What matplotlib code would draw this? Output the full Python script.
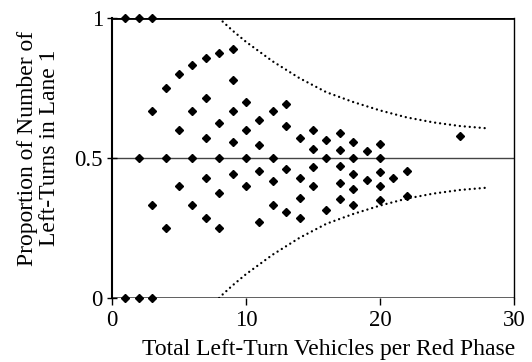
import matplotlib
matplotlib.use("Agg")
import matplotlib.pyplot as plt
import numpy as np

plt.rcParams['font.family'] = ['Liberation Serif', 'DejaVu Serif']

# total left-turn vehicles per red phase, and how many of them used lane 1
total_vehicles = [1, 1, 2, 2, 2, 3, 3, 3, 3,
                  4, 4, 4, 5, 5, 5, 6, 6, 6, 6,
                  7, 7, 7, 7, 7, 8, 8, 8, 8, 8,
                  9, 9, 9, 9, 9, 10, 10, 10, 10,
                  11, 11, 11, 11, 12, 12, 12, 12,
                  13, 13, 13, 13, 14, 14, 14, 14,
                  15, 15, 15, 15, 16, 16, 16,
                  17, 17, 17, 17, 17, 18, 18, 18, 18, 18,
                  19, 19, 20, 20, 20, 20, 20, 21, 22, 22, 26]
lane1_vehicles = [1, 0, 2, 1, 0, 3, 2, 1, 0,
                  3, 2, 1, 4, 3, 2, 5, 4, 3, 2,
                  6, 5, 4, 3, 2, 7, 5, 4, 3, 2,
                  8, 7, 6, 5, 4, 7, 6, 5, 4,
                  7, 6, 5, 3, 8, 6, 5, 4,
                  9, 8, 6, 4, 8, 6, 5, 4,
                  9, 8, 7, 6, 9, 8, 5,
                  10, 9, 8, 7, 6, 10, 9, 8, 7, 6,
                  10, 8, 11, 10, 9, 8, 7, 9, 10, 8, 15]

# dotted envelope (upper branch; lower is its mirror)
env_x = [8, 8.2, 9, 10, 11, 12, 13, 14, 16, 18, 20, 22, 24, 26, 28]
env_upper = [1.0, 0.99, 0.955, 0.915, 0.88, 0.845, 0.815, 0.785, 0.735,
             0.70, 0.67, 0.645, 0.627, 0.614, 0.606]

proportion = np.array(lane1_vehicles) / np.array(total_vehicles)
env_lower = 1 - np.array(env_upper)

fig = plt.figure(figsize=(5.32, 3.62), dpi=100)
ax = fig.add_axes([0.2105, 0.1768, 0.7555, 0.7735])

ax.axhline(0.5, color='#444444', lw=1.0, zorder=1)
ax.axhline(1.0, color='black', lw=2.0, zorder=1)
ax.axhline(0.0, color='#444444', lw=1.2, zorder=1)

dots = (0, (0.01, 2.1))
ax.plot(env_x, env_upper, color='black', lw=1.7, linestyle=dots,
        dash_capstyle='round', zorder=2)
ax.plot(env_x, env_lower, color='black', lw=1.7, linestyle=dots,
        dash_capstyle='round', zorder=2)

ax.plot(total_vehicles, proportion, linestyle='none', marker='D',
        markersize=4.2, color='black', clip_on=False, zorder=3)

ax.set_xlim(0, 30)
ax.set_ylim(0, 1)
ax.set_xticks([0, 10, 20, 30])
ax.set_yticks([0, 0.5, 1])
ax.set_yticklabels(['0', '0.5', '1'])
ax.tick_params(axis='x', direction='out', length=5, width=1, labelsize=16.5, pad=4)
ax.tick_params(axis='y', direction='inout', length=7, width=1, labelsize=16.5, pad=3)

for side in ['top', 'bottom']:
    ax.spines[side].set_visible(False)
ax.spines['left'].set_linewidth(1.5)
ax.spines['right'].set_linewidth(1.0)

ax.set_xlabel('Total Left-Turn Vehicles per Red Phase', fontsize=17)
ax.xaxis.set_label_coords(0.54, -0.148)
ax.set_ylabel('Proportion of Number of\nLeft-Turns in Lane 1', fontsize=17,
              linespacing=1.05)
ax.yaxis.set_label_coords(-0.13, 0.535)

fig.savefig('out.png', dpi=100)
